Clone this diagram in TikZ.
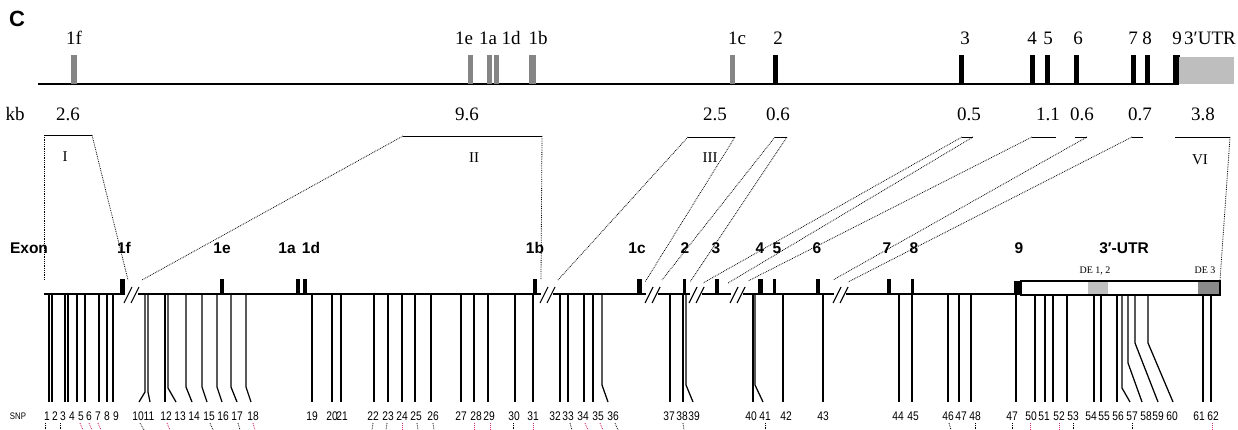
\documentclass[tikz,border=0pt]{standalone}
\usepackage{fontspec}
\setmainfont{Liberation Serif}
\setsansfont{Liberation Sans}
\newfontfamily\snpfont[FakeStretch=0.82]{Liberation Sans}
\definecolor{exgray}{HTML}{858585}
\definecolor{utrgray}{HTML}{BEBEBE}
\definecolor{degray}{HTML}{C0C0C0}
\definecolor{dedark}{HTML}{8A8A8A}
\definecolor{snpred}{HTML}{E0306A}
\tikzset{
  toplab/.style={font=\fontsize{19}{19}\selectfont, anchor=base, inner sep=0pt},
  romlab/.style={font=\fontsize{15}{15}\selectfont, anchor=base, inner sep=0pt},
  exlab/.style={font=\sffamily\bfseries\fontsize{15.5}{15.5}\selectfont, anchor=base, inner sep=0pt},
  snplab/.style={font=\snpfont\fontsize{12.5}{12.5}\selectfont, anchor=base, inner sep=0pt},
  delab/.style={font=\fontsize{10}{10}\selectfont, anchor=base, inner sep=0pt},
  leg/.style={densely dotted, line width=0.8pt},
  brtop/.style={line width=0.9pt},
  gline/.style={line width=1.3pt},
  snpline/.style={line width=1.25pt},
  brkline/.style={line width=1.1pt},
  stubk/.style={densely dotted, line width=0.8pt, black},
  stubr/.style={densely dotted, line width=0.9pt, snpred},
}
\newcommand{\brkmark}[1]{\draw[brkline] ({#1-8},303) -- ({#1},287) ({#1-1},303) -- ({#1+7},287);}
\begin{document}
\begin{tikzpicture}[x=1pt,y=-1pt]
\useasboundingbox (0,0) rectangle (1238,430);
% panel letter
\node[font=\sffamily\bfseries\fontsize{22}{22}\selectfont, anchor=base, inner sep=0pt] (C) at (17,27) {C};

% ---------- top gene map ----------
\draw[gline] (38,84) coordinate (tl0) -- (1179,84) coordinate (tl1);
\foreach \x/\w/\c in {74/6/exgray, 470/5/exgray, 489/5/exgray, 496/5/exgray, 532/7/exgray, 732/5/exgray,
  775/5/black, 961/5/black, 1032/5/black, 1047/5/black, 1076/5/black, 1133/5/black, 1147/5/black, 1176/7/black}
  {\fill[\c] ({\x-\w/2},55) rectangle ({\x+\w/2},84);}
\fill[utrgray] (1179,57) rectangle (1234,84);

\foreach \x/\t [count=\k] in {74/1f, 464/1e, 488/1a, 511/1d, 538/1b, 737/1c, 778/2, 965/3, 1032/4, 1048/5, 1078/6, 1133/7, 1147/8, 1177/9, 1210/3′UTR}
  {\node[toplab] (tx\k) at (\x,45) {\t};}

% kb labels
\node[toplab] (kb) at (15,121) {kb};
\foreach \x/\t [count=\k] in {68/2.6, 467/9.6, 715/2.5, 778/0.6, 969/0.5, 1048/1.1, 1082/0.6, 1140/0.7, 1203/3.8}
  {\node[toplab] (kb\k) at (\x,121) {\t};}

% roman numerals
\node[romlab] (rI) at (65,162) {I};
\node[romlab] (rII) at (474,163) {II};
\node[romlab] (rIII) at (710,163) {III};
\node[romlab] (rVI) at (1200,165) {VI};

% bracket corners (top) and landing points (bottom)
\coordinate (aI) at (44,135);   \coordinate (bI) at (92,135);
\coordinate (aII) at (403,136); \coordinate (bII) at (542,136);
\coordinate (aIII) at (688,137); \coordinate (bIII) at (735,137);
\coordinate (aEtwo) at (775,137); \coordinate (bEtwo) at (787,137);
\coordinate (aEthree) at (962,137); \coordinate (bEthree) at (973,137);
\coordinate (aEfour) at (1032,137); \coordinate (bEfour) at (1056,137);
\coordinate (aEsix) at (1075,137); \coordinate (bEsix) at (1087,137);
\coordinate (aEseven) at (1132,137); \coordinate (bEseven) at (1143,137);
\coordinate (aVI) at (1175,137); \coordinate (bVI) at (1230,137);

\coordinate (pIa) at (44,280);  \coordinate (pIb) at (128,280);
\coordinate (pIIa) at (142,280); \coordinate (pIIb) at (541,280);
\coordinate (pIIIa) at (558,280); \coordinate (pIIIb) at (645,282);
\coordinate (pEtwoa) at (662,280); \coordinate (pEtwob) at (690,282);
\coordinate (pEthreea) at (703,283); \coordinate (pEthreeb) at (728,283);
\coordinate (pEfour) at (748,281);
\coordinate (pEsix) at (833,280);
\coordinate (pEseven) at (848,282);
\coordinate (pVI) at (1220,280);

\foreach \n in {I,II,III,Etwo,Ethree,Efour,Esix,Eseven,VI}
  {\draw[brtop] (a\n) -- (b\n);}
\draw[leg] (aI) -- (pIa);   \draw[leg] (bI) -- (pIb);
\draw[leg] (aII) -- (pIIa); \draw[leg] (bII) -- (pIIb);
\draw[leg] (aIII) -- (pIIIa); \draw[leg] (bIII) -- (pIIIb);
\draw[leg] (aEtwo) -- (pEtwoa); \draw[leg] (bEtwo) -- (pEtwob);
\draw[leg] (aEthree) -- (pEthreea); \draw[leg] (bEthree) -- (pEthreeb);
\draw[leg] (aEfour) -- (pEfour);
\draw[leg] (bEsix) -- (pEsix);
\draw[leg] (aEseven) -- (pEseven);
\draw[leg] (bVI) -- (pVI);

% ---------- bottom detailed map ----------
\node[exlab] (exon) at (29,253) {Exon};
\foreach \x/\t [count=\k] in {124/1f, 222/1e, 287/1a, 311/1d, 535/1b, 637/1c, 685/2, 716/3, 760/4, 777/5, 817/6, 887/7, 914/8, 1019/9, 1124/3′-UTR}
  {\node[exlab] (ex\k) at (\x,253) {\t};}

% gene line segments
\foreach \a/\b in {44/125, 138/541, 553/646, 658/690, 702/731, 743/834, 846/1014}
  {\draw[line width=1.2pt] (\a,294) -- (\b,294);}
% breaks
\foreach \x in {132, 548, 653, 697, 738, 841}
  {\brkmark{\x}}

% exon boxes
\foreach \a/\b in {120/125, 220/224, 296/300, 303/307, 533/537, 637/642, 683/686, 715/719, 758/763, 773/776, 816/820, 887/891, 911/914}
  {\fill[black] (\a,279) rectangle (\b,294);}
\fill[black] (1014,281) rectangle (1021,295);
\fill[degray] (1088,281.6) rectangle (1108,294.4);
\fill[dedark] (1198,281.6) rectangle (1219.4,294.4);
\draw[line width=1.1pt] (1021,281) rectangle (1220,295);
\node[delab] (deA) at (1095,273) {DE 1, 2};
\node[delab] (deB) at (1205,273) {DE 3};

% SNP lines and labels
\node[font=\snpfont\fontsize{9.5}{9.5}\selectfont, anchor=base, inner sep=0pt] (snp) at (18,419) {SNP};
\foreach \t/\b/\e/\lx/\lab [count=\k] in {
  49/380/49/47/1, 52/380/52/55/2, 65/380/65/63/3, 68/380/68/72/4, 77/380/77/81/5, 85/380/85/89/6,
  99/380/99/98/7, 107/380/107/107/8, 113/380/113/116/9,
  145/392/139/138/10, 148/392/150/149/11, 165/380/165/166/12, 168/388/176/180/13, 186/387/192/194/14,
  202/387/207/209/15, 217/387/222/223/16, 231/387/237/237/17, 246/387/251/253/18,
  312/380/312/312/19, 332/380/332/332/20, 341/380/341/342/21,
  374/380/374/373/22, 388/380/388/388/23, 402/380/402/402/24, 415/380/415/416/25, 431/380/431/433/26,
  461/380/461/461/27, 474/380/474/476/28, 488/380/488/489/29, 515/380/515/514/30, 533/380/533/533/31,
  560/380/560/555/32, 568/380/568/568/33, 584/380/584/583/34, 593/380/593/598/35, 602/385/608/613/36,
  670/380/670/669/37, 683/380/683/682/38, 686/385/693/694/39,
  753/380/753/751/40, 755/385/763/765/41, 783/380/783/786/42, 823/380/823/823/43,
  899/380/899/898/44, 912/380/912/913/45, 948/380/948/948/46, 959/380/959/961/47, 971/380/971/975/48,
  1016/380/1016/1012/47, 1035/380/1035/1031/50, 1045/380/1045/1044/51, 1053/380/1053/1059/52, 1067/380/1067/1073/53,
  1094/380/1094/1091/54, 1101/380/1101/1104/55, 1117/380/1117/1118/56, 1122/388/1130/1132/57,
  1128/363/1142/1146/58, 1135/343/1158/1158/59, 1148/343/1173/1172/60, 1203/380/1203/1199/61, 1211/380/1211/1213/62}
{
  \draw[snpline] (\t,294) -- (\t,\b) -- (\e,402);
  \node[snplab] (s\k) at (\lx,420) {\lab};
}

% dotted stubs below the SNP labels
\foreach \x/\d in {45/0, 60/0, 140/4, 210/3, 238/2, 373/-1, 387/-1, 417/1, 433/1, 513/0, 570/2, 615/3, 683/1, 765/0, 949/2, 975/0, 1012/0, 1073/0, 1132/0}
  {\draw[stubk] (\x,423) -- ({\x+\d},430);}
\foreach \x/\d in {80/3, 89/3, 98/3, 167/3, 253/2, 402/0, 474/0, 490/0, 533/0, 585/3, 600/3, 1030/0, 1059/0, 1212/0}
  {\draw[stubr] (\x,423) -- ({\x+\d},430);}
\end{tikzpicture}
\end{document}
